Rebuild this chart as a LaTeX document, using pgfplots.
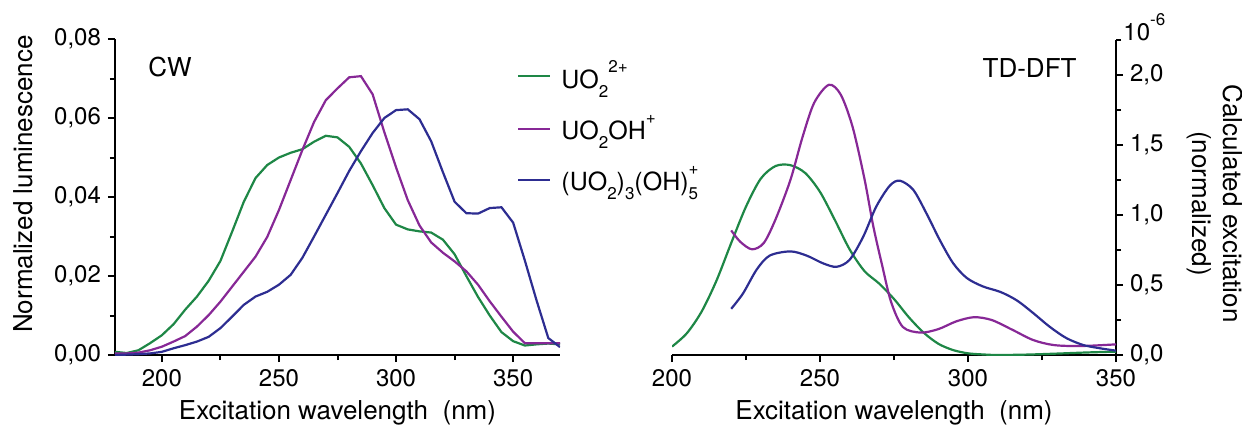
\documentclass[border=0pt]{standalone}
\usepackage{fontspec}
\setmainfont{TeX Gyre Heros}
\usepackage{pgfplots}
\pgfplotsset{compat=1.18}
\definecolor{cgreen}{RGB}{30,135,70}
\definecolor{cpurple}{RGB}{135,40,150}
\definecolor{cblue}{RGB}{45,45,145}
\newcommand\lsub[1]{\raisebox{-0.38em}{\fontsize{8.5}{9}\selectfont #1}}
\newcommand\lsup[1]{\raisebox{0.62em}{\fontsize{8.5}{9}\selectfont #1}}
\newcommand\supsub[2]{\makebox[0pt][l]{\lsup{#1}}\lsub{#2}}
\newcommand\labfont{\fontsize{13}{15.5}\selectfont}

\pgfplotsset{
  common/.style={
    scale only axis, anchor=south west,
    axis line style={line width=1pt},
    every tick/.style={line width=1pt, black},
    major tick length=3.5pt, minor tick length=2.5pt,
    tick label style={font=\fontsize{12}{14}\selectfont},
    /pgf/number format/assume math mode=true,
    every axis plot/.append style={line width=1.1pt},
    scaled ticks=false,
    clip mode=individual,
  }
}

\begin{document}
\begin{tikzpicture}
\useasboundingbox (0,0) rectangle (621pt,212pt);

\begin{axis}[common, at={(57.5pt,34.5pt)}, width=222.5pt, height=158pt,
  axis x line*=bottom, axis y line*=left, tick align=outside,
  xmin=180, xmax=370, ymin=0, ymax=0.08,
  xtick={200,250,300,350}, minor xtick={225,275,325},
  ytick={0,0.02,0.04,0.06,0.08}, minor ytick={0.01,0.03,0.05,0.07},
  yticklabel style={/pgf/number format/.cd, fixed, fixed zerofill, precision=2, use comma},
  xlabel={Excitation wavelength\ \ (nm)}, ylabel={Normalized luminescence},
  every axis x label/.style={at={(rel axis cs:0.5,0)}, yshift=-32pt, anchor=base, font=\labfont},
  every axis y label/.style={at={(rel axis cs:0,0.5)}, xshift=-41pt, yshift=6.5pt, rotate=90, anchor=base, font=\labfont},
  legend style={at={(0.903,0.946)}, anchor=north west, draw=none, fill=none,
    font=\fontsize{12.5}{15}\selectfont, row sep=8.3pt, inner sep=0pt,
    /tikz/every odd column/.append style={column sep=3pt}},
  legend image code/.code={\draw[#1, line width=1.1pt] (0pt,0pt) -- (16pt,0pt);},
  legend cell align=left,
]
\addplot[cgreen] coordinates {
(180,0.0008)(185,0.0005)(190,0.0012)(195,0.003)(200,0.005)(205,0.0078)(210,0.0115)
(215,0.0148)(220,0.0188)(225,0.0238)(230,0.0312)(235,0.0388)(240,0.0448)(245,0.0481)
(250,0.0500)(255,0.0512)(260,0.0521)(265,0.0540)(270,0.0555)(275,0.0551)(280,0.0527)
(285,0.0485)(290,0.0430)(295,0.0372)(300,0.0330)(305,0.0318)(310,0.0313)(315,0.0310)
(320,0.0292)(325,0.0255)(330,0.0200)(335,0.0147)(340,0.0100)(345,0.0058)(350,0.0035)
(355,0.0024)(360,0.0027)(365,0.0029)(370,0.0027)};
\addlegendentry{UO\lsub{2}\lsup{2+}}
\addplot[cpurple] coordinates {
(180,0.0004)(185,0.0004)(190,0.0006)(195,0.0012)(200,0.0021)(205,0.0034)(210,0.0048)
(215,0.0072)(220,0.0101)(225,0.0135)(230,0.0173)(235,0.0211)(240,0.0249)(245,0.0299)
(250,0.0367)(255,0.0443)(260,0.0519)(265,0.0590)(270,0.0645)(275,0.0675)(280,0.0703)
(285,0.0706)(290,0.0660)(295,0.0564)(300,0.0475)(305,0.0392)(310,0.0328)(315,0.0285)
(320,0.0259)(325,0.0237)(330,0.0212)(335,0.0178)(340,0.0136)(345,0.0097)(350,0.0059)
(355,0.0030)(360,0.0030)(365,0.0030)(370,0.0030)};
\addlegendentry{UO\lsub{2}OH\lsup{+}}
\addplot[cblue] coordinates {
(180,0.0000)(185,0.0001)(190,0.0002)(195,0.0004)(200,0.0008)(205,0.0017)(210,0.0025)
(215,0.0034)(220,0.0046)(225,0.0068)(230,0.0097)(235,0.0127)(240,0.0148)(245,0.0160)
(250,0.0178)(255,0.0203)(260,0.0246)(265,0.0300)(270,0.0355)(275,0.0410)(280,0.0466)
(285,0.0516)(290,0.0562)(295,0.0600)(300,0.0620)(305,0.0622)(310,0.0597)(315,0.0541)
(320,0.0463)(325,0.0388)(330,0.0359)(335,0.0358)(340,0.0372)(345,0.0374)(350,0.0335)
(355,0.0239)(360,0.0138)(365,0.0043)(370,0.0020)};
\addlegendentry{(UO\lsub{2})\lsub{3}(OH)\supsub{+}{5}}
\node[anchor=west, inner sep=0pt, font=\fontsize{13}{15}\selectfont] at (rel axis cs:0.074,0.912) {CW};
\end{axis}

\begin{axis}[common, at={(336pt,34.5pt)}, width=222pt, height=157.5pt,
  axis x line*=bottom, axis y line*=right, tick align=outside,
  xmin=200, xmax=350, ymin=0, ymax=2.25,
  xtick={200,250,300,350}, minor xtick={225,275,325},
  ytick={0,0.5,1,1.5,2}, minor ytick={0.25,0.75,1.25,1.75,2.25},
  yticklabel style={/pgf/number format/.cd, fixed, fixed zerofill, precision=1, use comma},
  xlabel={Excitation wavelength\ \ (nm)}, ylabel={Calculated excitation\\(normalized)},
  every axis x label/.style={at={(rel axis cs:0.5,0)}, yshift=-32pt, anchor=base, font=\labfont},
  every axis y label/.style={at={(rel axis cs:1,0.5)}, xshift=49.5pt, yshift=-3pt, rotate=-90, anchor=center, align=center, font=\labfont},
]
\addplot[cgreen, smooth, tension=0.5] coordinates {
(200,0.06)(205,0.155)(210,0.31)(215,0.53)(220,0.80)(225,1.06)(230,1.26)(235,1.35)
(240,1.356)(245,1.30)(250,1.165)(255,0.965)(260,0.755)(265,0.60)(270,0.51)(275,0.40)
(280,0.27)(285,0.16)(290,0.08)(295,0.035)(300,0.012)(305,0.004)(310,0.0)(320,0.003)
(330,0.010)(340,0.018)(350,0.024)};
\addplot[cpurple, smooth, tension=0.5] coordinates {
(220,0.89)(223,0.81)(227,0.755)(231,0.80)(235,0.97)(240,1.25)(244,1.55)(248,1.80)
(253,1.93)(257,1.86)(261,1.63)(265,1.26)(268,0.92)(271,0.64)(274,0.38)(278,0.20)
(284,0.16)(290,0.185)(296,0.24)(302,0.27)(308,0.25)(315,0.18)(322,0.107)(329,0.071)
(338,0.064)(350,0.076)};
\addplot[cblue, smooth, tension=0.5] coordinates {
(220,0.33)(224,0.44)(228.6,0.61)(233,0.71)(240,0.74)(245.5,0.71)(251,0.655)(255.6,0.63)
(260,0.68)(264.6,0.845)(269,1.06)(273.6,1.21)(277,1.245)(281.5,1.18)(286,1.01)(290.5,0.82)
(295,0.655)(299.6,0.55)(305,0.49)(311,0.45)(316.5,0.39)(322,0.30)(327.7,0.20)(333.3,0.12)
(339,0.071)(344.6,0.048)(350,0.031)};
\node[anchor=east, inner sep=0pt, font=\fontsize{13}{15}\selectfont] at (rel axis cs:0.912,0.912) {TD-DFT};
\node[anchor=base west, inner sep=0pt, font=\fontsize{12}{14}\selectfont] at (rel axis cs:1,1) [xshift=3.5pt] {10\lsup{-6}};
\end{axis}
\end{tikzpicture}
\end{document}
